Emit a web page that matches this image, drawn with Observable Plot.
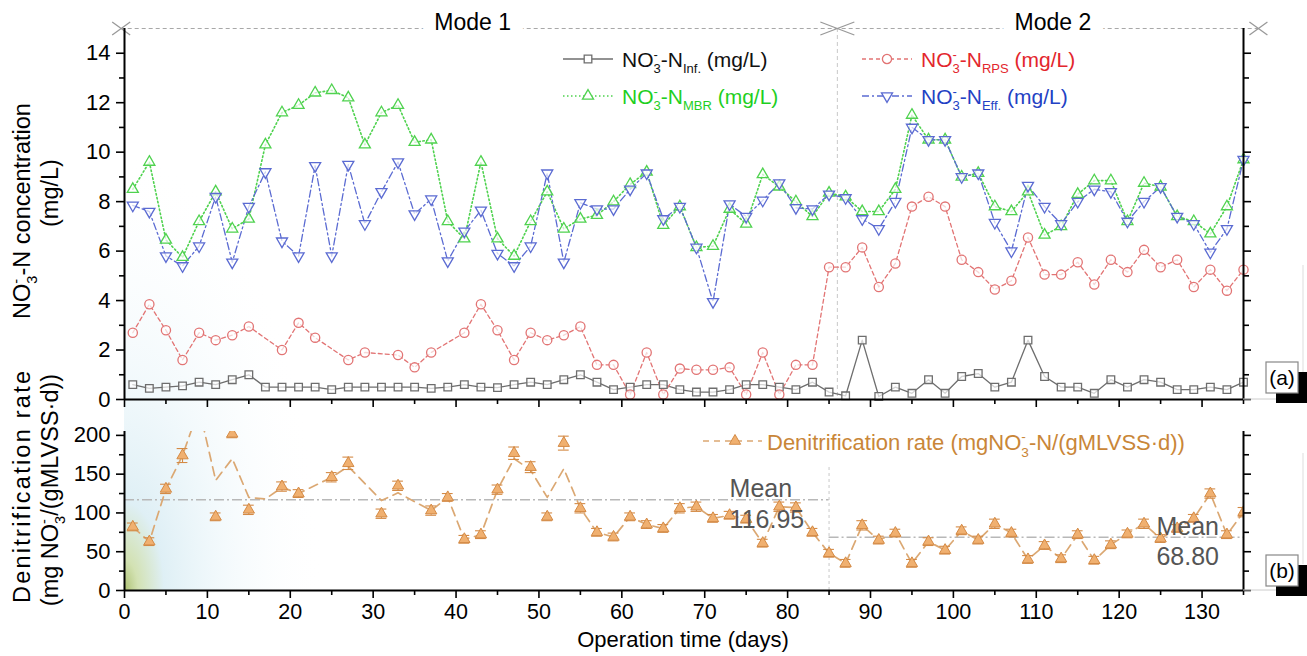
<!DOCTYPE html>
<html><head><meta charset="utf-8">
<script src="https://cdn.jsdelivr.net/npm/d3@7"></script>
<script src="https://cdn.jsdelivr.net/npm/@observablehq/plot@0.6"></script>
<style>
html,body{margin:0;padding:0;background:#fff;}
#wrap{position:relative;width:1307px;height:656px;overflow:hidden;font-family:'Liberation Sans',Arial,sans-serif;color:#000;}
#wrap > svg{position:absolute;left:0;overflow:visible;background:transparent;}
</style></head><body><div id="wrap"></div>
<script>
// ---------------- data ----------------
const days = [1,3,5,7,9,11,13,15,17,19,21,23,25,27,29,31,33,35,37,39,41,43,45,47,49,51,53,55,57,59,61,63,65,67,69,71,73,75,77,79,81,83,85,87,89,91,93,95,97,99,101,103,105,107,109,111,113,115,117,119,121,123,125,127,129,131,133,135];
// NO3--N concentrations (mg/L)
const inf = [0.6,0.45,0.5,0.55,0.7,0.6,0.8,1.0,0.5,0.5, 0.5,0.5,0.4,0.5,0.5,0.5,0.5,0.5,0.45,0.5, 0.6,0.5,0.48,0.6,0.7,0.6,0.8,1.0,0.7,0.4, 0.5,0.6,0.6,0.4,0.3,0.3,0.4,0.6,0.6,0.5, 0.4,0.7,0.3,0.15,2.4,0.12,0.5,0.25,0.8,0.25, 0.93,1.05,0.5,0.7,2.4,0.93,0.5,0.5,0.25,0.8, 0.5,0.8,0.7,0.4,0.4,0.5,0.4,0.7];
const rps = [2.7,3.85,2.8,1.6,2.7,2.4,2.6,2.95,null,2.0, 3.1,2.5,null,1.6,1.9,null,1.8,1.3,1.9,null, 2.7,3.85,2.8,1.6,2.7,2.4,2.6,2.95,1.4,1.4, 0.2,1.9,0.2,1.25,1.2,1.2,1.3,0.2,1.9,0.2, 1.4,1.4,5.35,5.35,6.15,4.55,5.5,7.8,8.2,7.8, 5.65,5.15,4.45,4.8,6.55,5.05,5.05,5.55,4.65,5.65, 5.15,6.05,5.35,5.65,4.55,5.25,4.4,5.25];
const mbr = [8.5,9.6,6.45,5.75,7.2,8.4,6.9,7.3,10.3,11.6, 11.9,12.4,12.5,12.2,10.3,11.6,11.9,10.4,10.5,7.2, 6.5,9.6,6.5,5.8,7.2,8.4,6.9,7.3,7.45,8.0, 8.7,9.2,7.05,7.8,6.15,6.2,7.7,7.1,9.1,8.6, 8.0,7.4,8.35,8.2,7.6,7.6,8.5,11.5,10.5,10.5, 9.0,9.15,7.8,7.6,8.4,6.65,7.0,8.3,8.85,8.85, 7.2,8.75,8.6,7.4,7.2,6.7,7.8,9.7];
const eff = [7.85,7.6,5.8,5.4,6.2,8.2,5.55,7.8,9.2,6.4, 5.8,9.45,5.8,9.5,7.1,8.4,9.6,7.5,8.1,5.6, 6.8,7.65,5.9,5.4,6.2,9.15,5.55,7.95,7.7,7.7, 8.5,9.15,7.3,7.8,6.15,3.95,7.9,7.4,8.05,8.75, 7.75,7.7,8.3,8.15,7.3,6.9,8.0,11.0,10.5,10.5, 9.0,9.15,7.15,6.0,8.65,7.8,7.1,8.0,8.5,8.4, 7.2,8.0,8.6,7.4,7.1,5.95,6.9,9.7];
// Denitrification rate (marker values, error, and dashed-line values)
const rate = [82,63,131,174,235,95,202,104,null,134, 125,null,146,164,null,99,135,null,103,120, 66,72,130,177,159,95,190,106,75,69, 95,85,80,106,108,93,97,92,61,108, 107,75,48,35,84,65,74,35,63,52, 77,65,86,74,40,58,41,72,39,59, 73,86,67,80,93,125,72,101];
const rateErr = [5,5,6,9,9,5,5,6,0,6, 5,0,6,8,0,6,6,0,6,5, 5,5,6,8,7,5,9,6,5,5, 5,5,5,6,6,5,5,5,5,6, 6,5,5,5,6,5,5,5,5,5, 5,5,6,5,5,5,5,5,5,5, 5,6,5,5,5,6,5,6];
const rateLine = [82,63,131,174,235,142,170,120,118,133, 125,null,146,160,null,116,126,null,103,120, 66,72,130,170,155,120,157,106,75,69, 95,85,80,106,108,93,97,92,61,108, 107,75,48,35,84,65,74,35,63,52, 77,65,86,74,40,58,41,72,39,59, 73,86,67,80,93,125,72,101];
// modes
const modeNames = ["Mode 1", "Mode 2"];
const modeStart = [0, 85];
const modeEnd = [85, 135];
const modeBoundary = 86;
const meanRate = [116.95, 68.80];
// ticks
const xMajor = [0,10,20,30,40,50,60,70,80,90,100,110,120,130];
const xMinor = [5,15,25,35,45,55,65,75,85,95,105,115,125,135];
const yTopMajor = [0,2,4,6,8,10,12,14];
const yTopMinor = [1,3,5,7,9,11,13];
const yBotMajor = [0,50,100,150,200];
const yBotMinor = [25,75,125,175];

// ---------------- helpers ----------------
const W = 1307, H = 656, ML = 124, MR = 64;
const FONT = "'Liberation Sans', Arial, sans-serif";
const blank = () => "";
const S3 = Math.sqrt(3);
const triUp = {draw(ctx, size){ const y = -Math.sqrt(size/(3*S3)); ctx.moveTo(0, 2*y); ctx.lineTo(-S3*y, -y); ctx.lineTo(S3*y, -y); ctx.closePath(); }};
const triDown = {draw(ctx, size){ const y = -Math.sqrt(size/(3*S3)); ctx.moveTo(0, -2*y); ctx.lineTo(-S3*y, y); ctx.lineTo(S3*y, y); ctx.closePath(); }};
const xSym = (hw, hh) => ({draw(ctx){ ctx.moveTo(-hw,-hh); ctx.lineTo(hw,hh); ctx.moveTo(-hw,hh); ctx.lineTo(hw,-hh); }});

function xAxes(labels){
  return [
    Plot.axisX({ticks: xMajor, tickSize: 8, tickPadding: 5, tickFormat: labels ? (d => String(d)) : blank, label: null, strokeWidth: 1.6, fontSize: 21.5}),
    Plot.axisX({ticks: xMinor, tickSize: 5, tickFormat: blank, label: null, strokeWidth: 1.6})
  ];
}
function yAxes(major, minor){
  return [
    Plot.axisY({anchor: "left", ticks: major, tickSize: 8, tickPadding: 6, label: null, strokeWidth: 1.6, fontSize: 22}),
    Plot.axisY({anchor: "left", ticks: minor, tickSize: 5, tickFormat: blank, label: null, strokeWidth: 1.6}),
    Plot.axisY({anchor: "right", ticks: major, tickSize: 7, tickFormat: blank, label: null, strokeWidth: 1.6}),
    Plot.axisY({anchor: "right", ticks: minor, tickSize: 5, tickFormat: blank, label: null, strokeWidth: 1.6})
  ];
}

const wrap = document.getElementById("wrap");

// background haze
const bg = d3.select(wrap).append("svg").attr("width", W).attr("height", H).style("top", "0px");
const rg = bg.append("defs").append("radialGradient").attr("id", "haze").attr("cx", 0).attr("cy", 1).attr("r", 1);
[[0,"#a3b95f",0.9],[0.07,"#c4d89a",0.75],[0.2,"#d4eaf2",0.75],[0.5,"#e7f4f9",0.5],[1,"#ffffff",0]]
  .forEach(([o,c,a]) => rg.append("stop").attr("offset", o).attr("stop-color", c).attr("stop-opacity", a));
bg.append("rect").attr("x", 124).attr("y", 150).attr("width", 200).attr("height", 440).attr("fill", "url(#haze)");

// ---------------- top panel ----------------
const topRows = days.map((d, i) => ({d, inf: inf[i], rps: rps[i], mbr: mbr[i], eff: eff[i]}));
const series = [
  {k: "inf", stroke: "#6e6e6e", dash: null, sym: "square", r: 4.3, lw: 1.3},
  {k: "rps", stroke: "#e27474", dash: "4,3", sym: "circle", r: 4.6, lw: 1.3},
  {k: "mbr", stroke: "#4fd24f", dash: "1.5,2.5", sym: triUp, r: 4.1, lw: 1.6},
  {k: "eff", stroke: "#5b6bd2", dash: "7,3,2,3", sym: triDown, r: 4.1, lw: 1.3}
];
const topMarks = [];
for (const s of series) {
  const rows = topRows.filter(r => r[s.k] != null);
  topMarks.push(Plot.line(rows, {x: "d", y: s.k, stroke: s.stroke, strokeWidth: s.lw, strokeDasharray: s.dash}));
}
for (const s of series) {
  const rows = topRows.filter(r => r[s.k] != null);
  topMarks.push(Plot.dot(rows, {x: "d", y: s.k, symbol: s.sym, r: s.r, stroke: s.stroke, fill: "white", fillOpacity: 0.7, strokeWidth: 1.3}));
}
const topPlot = Plot.plot({
  width: W, height: 420, marginLeft: ML, marginRight: MR, marginTop: 28, marginBottom: 21,
  style: {fontFamily: FONT, color: "black", background: "transparent", overflow: "visible"},
  x: {domain: [0, 135], axis: null},
  y: {domain: [0, 15], axis: null},
  marks: [
    Plot.ruleX([modeBoundary], {stroke: "#c8c8c8", strokeDasharray: "4,3", strokeWidth: 1}),
    Plot.ruleY([15], {x1: -0.4, x2: 136.8, stroke: "#a8a8a8", strokeDasharray: "4,3", strokeWidth: 1.2}),
    Plot.dot([-0.4, 136.8], {x: d => d, y: 15, symbol: xSym(9, 6.5), stroke: "#999", strokeWidth: 1.3}),
    Plot.dot([modeBoundary], {x: d => d, y: 15, symbol: xSym(17, 6.5), stroke: "#999", strokeWidth: 1.3}),
    Plot.text(modeNames, {x: (d, i) => [42, 112][i], y: 15, text: d => d, fontSize: 23, fill: "black", stroke: "white", strokeWidth: 26, dy: -6}),
    ...topMarks,
    Plot.ruleY([0], {strokeWidth: 2}),
    Plot.ruleX([0], {strokeWidth: 2}),
    Plot.ruleX([135], {strokeWidth: 2}),
    ...xAxes(false),
    ...yAxes(yTopMajor, yTopMinor)
  ]
});
topPlot.style.top = "0px";
wrap.appendChild(topPlot);

// ---------------- bottom panel ----------------
const rateRows = days.map((d, i) => ({d, v: rate[i], e: rateErr[i]})).filter(r => r.v != null);
const lineRows = days.map((d, i) => ({d, v: rateLine[i]})).filter(r => r.v != null);
const meanRows = meanRate.map((m, i) => ({m, x1: modeStart[i], x2: modeEnd[i]}));
const rateColor = "#d48a45";
const botPlot = Plot.plot({
  width: W, height: 236, marginLeft: ML, marginRight: MR, marginTop: 11, marginBottom: 66,
  style: {fontFamily: FONT, color: "black", background: "transparent", overflow: "visible"},
  x: {domain: [0, 135], axis: null},
  y: {domain: [0, 205], axis: null},
  marks: [
    Plot.ruleX([modeEnd[0]], {y1: 0, y2: 160, stroke: "#c8c8c8", strokeDasharray: "3,3", strokeWidth: 1}),
    Plot.ruleY(meanRows, {y: "m", x1: "x1", x2: "x2", stroke: "#b8b8b8", strokeWidth: 1.5, strokeDasharray: "10,3,2,3"}),
    Plot.line(lineRows, {x: "d", y: "v", stroke: "#dba873", strokeWidth: 1.7, strokeDasharray: "9,6", clip: true}),
    Plot.ruleX(rateRows, {x: "d", y1: r => r.v - r.e, y2: r => r.v + r.e, stroke: rateColor, strokeWidth: 1.1, clip: true}),
    Plot.ruleY(rateRows, {y: r => r.v + r.e, x1: r => r.d - 0.65, x2: r => r.d + 0.65, stroke: rateColor, strokeWidth: 1.1, clip: true}),
    Plot.ruleY(rateRows, {y: r => r.v - r.e, x1: r => r.d - 0.65, x2: r => r.d + 0.65, stroke: rateColor, strokeWidth: 1.1, clip: true}),
    Plot.dot(rateRows, {x: "d", y: "v", symbol: triUp, r: 4.2, fill: "#f0b070", stroke: rateColor, strokeWidth: 1, clip: true}),
    Plot.text(meanRows, {x: (d, i) => [73, 124.5][i], y: "m", text: d => "Mean\n" + d.m.toFixed(2), textAnchor: "start", lineAnchor: "middle", lineHeight: 1.22, fontSize: 25, fill: "#555", dy: 3}),
    Plot.ruleY([0], {strokeWidth: 2}),
    Plot.ruleX([0], {strokeWidth: 2}),
    Plot.ruleX([135], {strokeWidth: 2}),
    ...xAxes(true),
    ...yAxes(yBotMajor, yBotMinor)
  ]
});
botPlot.style.top = "420px";
wrap.appendChild(botPlot);

// ---------------- overlay: titles, legends, labels ----------------
const ov = d3.select(wrap).append("svg").attr("width", W).attr("height", H).style("top", "0px")
  .style("pointer-events", "none").attr("font-family", FONT);

function rich(sel, parts, fs) {
  let shift = 0;
  sel.style("white-space", "pre");
  for (const p of parts) {
    if (p.k === "n") {
      sel.append("tspan").attr("dy", -shift).attr("font-size", fs).text(p.t); shift = 0;
    } else if (p.k === "sub") {
      const s = fs * 0.3;
      sel.append("tspan").attr("dy", s - shift).attr("font-size", fs * 0.62).text(p.t); shift = s;
    } else if (p.k === "stack") {
      const small = fs * 0.62, up = -fs * 0.4, down = fs * 0.3;
      sel.append("tspan").attr("dy", up - shift).attr("font-size", small).text("-");
      sel.append("tspan").attr("dx", -small * 0.333).attr("dy", down - up).attr("font-size", small).text("3");
      shift = down;
    }
  }
  return sel;
}
const N = t => ({k: "n", t}), SUB = t => ({k: "sub", t}), ST = {k: "stack"};

// y titles
rich(ov.append("text").attr("transform", "translate(30,211) rotate(-90)").attr("text-anchor", "middle"),
  [N("NO"), ST, N("-N concentration")], 23.5);
rich(ov.append("text").attr("transform", "translate(58,193) rotate(-90)").attr("text-anchor", "middle"),
  [N("(mg/L)")], 23.5);
ov.append("text").attr("transform", "translate(30,487) rotate(-90)").attr("text-anchor", "middle")
  .attr("font-size", 23.5).attr("textLength", 232).attr("lengthAdjust", "spacing").text("Denitrification rate");
rich(ov.append("text").attr("transform", "translate(58,490) rotate(-90)").attr("text-anchor", "middle"),
  [N("(mg NO"), ST, N("/(gMLVSS·d))")], 23.5);
// x title
ov.append("text").attr("x", 683).attr("y", 647).attr("text-anchor", "middle").attr("font-size", 22).text("Operation time (days)");

// top legend
const legItems = [
  {x: 563, y: 59, stroke: "#6e6e6e", dash: null, sym: d3.symbolSquare, size: 58, sub: "Inf.", color: "#111"},
  {x: 563, y: 96, stroke: "#4fd24f", dash: "1.5,2.5", sym: triUp, size: 53, sub: "MBR", color: "#1fcf1f"},
  {x: 862, y: 59, stroke: "#e27474", dash: "4,3", sym: d3.symbolCircle, size: 66, sub: "RPS", color: "#e3262d"},
  {x: 862, y: 96, stroke: "#5b6bd2", dash: "7,3,2,3", sym: triDown, size: 53, sub: "Eff.", color: "#2341c4"}
];
for (const it of legItems) {
  ov.append("line").attr("x1", it.x).attr("x2", it.x + 50).attr("y1", it.y).attr("y2", it.y)
    .attr("stroke", it.stroke).attr("stroke-width", 1.4).attr("stroke-dasharray", it.dash);
  ov.append("path").attr("d", d3.symbol(it.sym, it.size)()).attr("transform", `translate(${it.x + 25},${it.y})`)
    .attr("fill", "white").attr("stroke", it.stroke).attr("stroke-width", 1.3);
  rich(ov.append("text").attr("x", it.x + 59).attr("y", it.y + 8).attr("fill", it.color),
    [N("NO"), ST, N("-N"), SUB(it.sub), N(" (mg/L)")], 21);
}
// bottom legend
ov.append("line").attr("x1", 703).attr("x2", 762).attr("y1", 441).attr("y2", 441)
  .attr("stroke", "#dba873").attr("stroke-width", 1.7).attr("stroke-dasharray", "6,5");
ov.append("path").attr("d", d3.symbol(triUp, 55)()).attr("transform", "translate(735,441)")
  .attr("fill", "#f0b070").attr("stroke", rateColor);
rich(ov.append("text").attr("x", 767).attr("y", 450).attr("fill", "#c98638"),
  [N("Denitrification rate (mgNO"), ST, N("-N/(gMLVSS·d))")], 22);

// panel labels and edge artefacts
ov.append("line").attr("x1", 1243).attr("x2", 1276).attr("y1", 399).attr("y2", 399).attr("stroke", "#ccc");
ov.append("line").attr("x1", 1243).attr("x2", 1276).attr("y1", 590).attr("y2", 590).attr("stroke", "#ccc");
ov.append("line").attr("x1", 1303).attr("x2", 1303).attr("y1", 265).attr("y2", 372).attr("stroke", "#ddd");
ov.append("line").attr("x1", 1303).attr("x2", 1303).attr("y1", 453).attr("y2", 564).attr("stroke", "#ddd");
for (const [lab, y0] of [["(a)", 362], ["(b)", 555]]) {
  ov.append("rect").attr("x", 1276).attr("y", y0 + 10).attr("width", 31).attr("height", 31).attr("fill", "black");
  ov.append("rect").attr("x", 1266).attr("y", y0).attr("width", 32).attr("height", 31).attr("fill", "white").attr("stroke", "#888").attr("stroke-width", 1.2);
  ov.append("text").attr("x", 1282).attr("y", y0 + 23).attr("text-anchor", "middle").attr("font-size", 21).text(lab);
}
</script>
</body></html>
